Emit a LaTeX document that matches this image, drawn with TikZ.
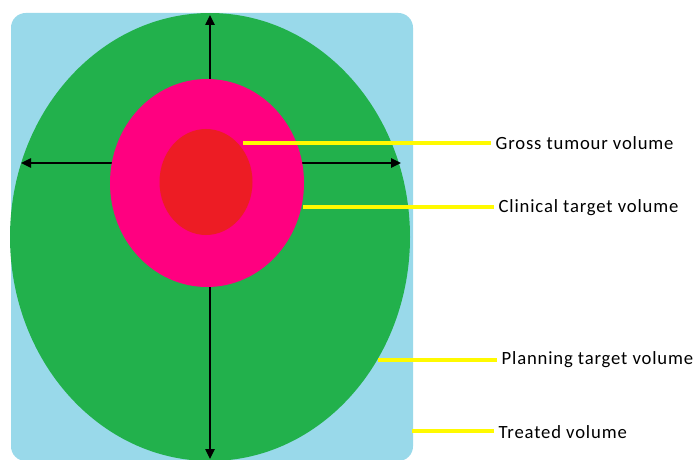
\documentclass[tikz,border=0pt]{standalone}
\usepackage{fontspec}
\setmainfont[LetterSpace=4.5]{Carlito}
\usetikzlibrary{shapes.geometric,arrows.meta}
\definecolor{tvblue}{RGB}{153,217,234}
\definecolor{ptvgreen}{RGB}{34,177,76}
\definecolor{ctvpink}{RGB}{255,0,128}
\definecolor{gtvred}{RGB}{237,28,36}
\definecolor{leadyellow}{RGB}{255,250,0}
\begin{document}
\begin{tikzpicture}[x=0.75pt, y=-0.75pt, every node/.style={font=\fontsize{14}{16}\selectfont},
  vol/.style={ellipse, inner sep=0pt, draw=none},
  leader/.style={draw=leadyellow, line width=2.6pt},
  axis/.style={-{Triangle[length=7.5pt,width=7pt]}, line width=1.1pt}]
  \useasboundingbox (0,0) rectangle (693,460);
  % treated volume
  \fill[tvblue, rounded corners=11pt] (11,13) rectangle (413,461);
  % planning target volume
  \node[vol, fill=ptvgreen, minimum width=300pt, minimum height=336pt] (ptv) at (210,237) {};
  % axes, hidden under the CTV
  \coordinate (cross) at (210,163);
  \coordinate (up) at (210,15);
  \coordinate (down) at (210,459);
  \coordinate (left) at (21,163);
  \coordinate (right) at (401,163);
  \foreach \e in {up,down,left,right}
    \draw[axis] (cross) -- (\e);
  % clinical and gross target volumes
  \node[vol, fill=ctvpink, minimum width=145.5pt, minimum height=156pt] (ctv) at (207,183) {};
  \node[vol, fill=gtvred, minimum width=69.75pt, minimum height=79.5pt] (gtv) at (206,182) {};
  % labels
  \node[anchor=west] (gtvlbl) at (491,143) {Gross tumour volume};
  \node[anchor=west] (ctvlbl) at (494,208) {Clinical target volume};
  \node[anchor=west] (ptvlbl) at (497,360) {Planning target volume};
  \node[anchor=west] (tvlbl) at (494,432) {Treated volume};
  \coordinate (gtvpt) at (243,143);
  \coordinate (ctvpt) at (303,207);
  \coordinate (ptvpt) at (378,360);
  \coordinate (tvpt) at (412,431);
  \foreach \a/\b in {gtvpt/gtvlbl,ctvpt/ctvlbl,ptvpt/ptvlbl,tvpt/tvlbl}
    \draw[leader] (\a) -- (\a -| \b.west);
\end{tikzpicture}
\end{document}
